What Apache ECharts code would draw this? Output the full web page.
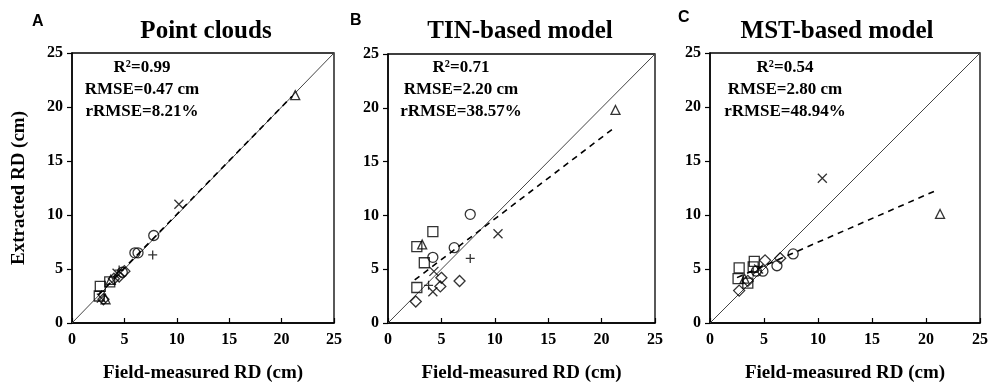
<!DOCTYPE html>
<html>
<head>
<meta charset="utf-8">
<script src="https://cdn.jsdelivr.net/npm/echarts@6/dist/echarts.min.js"></script>
<style>
html,body{margin:0;padding:0;background:#fff;}
#chart{width:991px;height:388px;}
</style>
</head>
<body>
<div id="chart"></div>
<script>
// ---- data (x = field-measured RD, y = extracted RD, cm) ----
var panelLetters = ['A', 'B', 'C'];
var panelTitles = ['Point clouds', 'TIN-based model', 'MST-based model'];
var statsA = ['R²=0.99', 'RMSE=0.47 cm', 'rRMSE=8.21%'];
var statsB = ['R²=0.71', 'RMSE=2.20 cm', 'rRMSE=38.57%'];
var statsC = ['R²=0.54', 'RMSE=2.80 cm', 'rRMSE=48.94%'];
var axisTicks = [0, 5, 10, 15, 20, 25];
var xAxisTitle = 'Field-measured RD (cm)';
var yAxisTitle = 'Extracted RD (cm)';

var A_circle   = [[7.8, 8.1], [6.3, 6.5], [6.0, 6.5], [4.8, 4.7]];
var A_plus     = [[7.7, 6.3], [4.5, 4.9]];
var A_cross    = [[10.2, 11.0], [4.3, 4.6], [2.8, 2.3]];
var A_triangle = [[21.3, 21.1], [3.2, 2.2], [3.7, 4.0]];
var A_square   = [[2.7, 3.4], [2.6, 2.5], [3.6, 3.8]];
var A_diamond  = [[4.5, 4.3], [5.0, 4.8], [3.0, 2.2], [4.0, 4.1]];
var A_fit      = [[2.5, 2.6], [21.0, 21.0]];

var B_circle   = [[7.7, 10.1], [6.2, 7.0], [4.2, 6.1]];
var B_plus     = [[7.7, 6.0], [3.8, 3.5]];
var B_cross    = [[10.3, 8.3], [4.3, 4.8], [4.2, 2.9]];
var B_triangle = [[21.3, 19.8], [3.2, 7.3]];
var B_square   = [[4.2, 8.5], [2.7, 7.1], [3.4, 5.6], [2.7, 3.3]];
var B_diamond  = [[5.0, 4.2], [4.9, 3.4], [6.7, 3.9], [2.6, 2.0]];
var B_fit      = [[2.5, 4.0], [21.0, 18.0]];

var C_circle   = [[7.7, 6.4], [6.2, 5.3], [4.3, 4.8], [4.9, 4.8]];
var C_plus     = [[4.0, 4.7]];
var C_cross    = [[10.4, 13.4], [4.5, 5.0]];
var C_triangle = [[21.3, 10.1], [3.2, 4.1]];
var C_square   = [[2.7, 5.1], [4.1, 5.7], [2.6, 4.1], [3.5, 3.7], [4.0, 5.2]];
var C_diamond  = [[5.1, 5.8], [6.5, 6.0], [2.7, 3.0], [3.5, 3.9]];
var C_fit      = [[2.5, 4.2], [21.0, 12.3]];

var oneToOne = [[0, 0], [25, 25]];

// ---- chart ----
var serif = '"Liberation Serif", "Times New Roman", serif';
var panels = [
  {pts: {circle: A_circle, plus: A_plus, cross: A_cross, triangle: A_triangle, square: A_square, diamond: A_diamond}, fit: A_fit, stats: statsA},
  {pts: {circle: B_circle, plus: B_plus, cross: B_cross, triangle: B_triangle, square: B_square, diamond: B_diamond}, fit: B_fit, stats: statsB},
  {pts: {circle: C_circle, plus: C_plus, cross: C_cross, triangle: C_triangle, square: C_square, diamond: C_diamond}, fit: C_fit, stats: statsC}
];
var grids = [
  {left: 72, top: 53, width: 262, height: 272},
  {left: 388, top: 54, width: 267, height: 271},
  {left: 710, top: 53, width: 275, height: 272}
];
var symbols = {
  circle:   {symbol: 'circle', size: 10},
  square:   {symbol: 'rect', size: 10},
  diamond:  {symbol: 'diamond', size: 11},
  triangle: {symbol: 'triangle', size: 9},
  cross:    {symbol: 'path://M0,0L10,10M10,0L0,10', size: 9},
  plus:     {symbol: 'path://M5,0L5,10M0,5L10,5', size: 9}
};
var letterPos = [[39, 23], [357, 22], [685, 19]];
var titlePos = [206, 520, 837];
var statsCenter = [142, 461, 785];
var statsY = [68, 90, 112];

var option = {
  backgroundColor: '#fff',
  animation: false,
  grid: [], xAxis: [], yAxis: [], series: [], graphic: []
};

grids.forEach(function (g, i) {
  option.grid.push({left: g.left, top: g.top, width: g.width, height: g.height, show: true,
    borderColor: '#000', borderWidth: 1.3, backgroundColor: 'transparent'});
  option.xAxis.push({
    type: 'value', gridIndex: i, min: 0, max: 25, interval: 5,
    axisLine: {show: true, lineStyle: {color: '#000', width: 1.5}},
    axisTick: {show: true, inside: true, length: 5, lineStyle: {color: '#000', width: 1.2}},
    splitLine: {show: false},
    axisLabel: {color: '#000', fontFamily: serif, fontWeight: 'bold', fontSize: 16, margin: 9,
      formatter: function (v) { return axisTicks.indexOf(v) >= 0 ? String(v) : ''; }},
    name: xAxisTitle, nameLocation: 'middle', nameGap: 41,
    nameTextStyle: {color: '#000', fontFamily: serif, fontWeight: 'bold', fontSize: 19}
  });
  option.yAxis.push({
    type: 'value', gridIndex: i, min: 0, max: 25, interval: 5,
    axisLine: {show: true, lineStyle: {color: '#000', width: 1.5}},
    axisTick: {show: true, inside: false, length: 5, lineStyle: {color: '#000', width: 1.2}},
    splitLine: {show: false},
    axisLabel: {color: '#000', fontFamily: serif, fontWeight: 'bold', fontSize: 16, margin: 9,
      formatter: function (v) { return axisTicks.indexOf(v) >= 0 ? String(v) : ''; }},
    name: i === 0 ? yAxisTitle : '', nameLocation: 'middle', nameGap: 43,
    nameTextStyle: {color: '#000', fontFamily: serif, fontWeight: 'bold', fontSize: 19}
  });

  option.series.push({
    type: 'line', xAxisIndex: i, yAxisIndex: i, data: oneToOne, symbol: 'none', silent: true,
    lineStyle: {color: '#444', width: 1}, z: 1
  });
  option.series.push({
    type: 'line', xAxisIndex: i, yAxisIndex: i, data: panels[i].fit, symbol: 'none', silent: true,
    lineStyle: {color: '#000', width: 1.6, type: [6, 5]}, z: 2
  });
  Object.keys(symbols).forEach(function (k) {
    option.series.push({
      type: 'scatter', xAxisIndex: i, yAxisIndex: i, data: panels[i].pts[k],
      symbol: symbols[k].symbol, symbolSize: symbols[k].size,
      itemStyle: {color: 'rgba(255,255,255,0)', borderColor: '#000', borderWidth: 1.3},
      z: 3
    });
  });

  option.graphic.push({
    type: 'text', left: letterPos[i][0] - 7, top: letterPos[i][1] - 9,
    style: {text: panelLetters[i], fill: '#000', font: 'bold 16px "Liberation Sans", Arial, sans-serif'}
  });
  option.graphic.push({
    type: 'text', x: titlePos[i], y: 32,
    style: {text: panelTitles[i], fill: '#000', font: 'bold 25px ' + serif,
      textAlign: 'center', textVerticalAlign: 'middle'}
  });
  panels[i].stats.forEach(function (s, j) {
    option.graphic.push({
      type: 'text', x: statsCenter[i], y: statsY[j],
      style: {text: s, fill: '#000', font: 'bold 17px ' + serif,
        textAlign: 'center', textVerticalAlign: 'middle'}
    });
  });
});

var chart = echarts.init(document.getElementById('chart'), null, {renderer: 'canvas'});
chart.setOption(option);
</script>
</body>
</html>
